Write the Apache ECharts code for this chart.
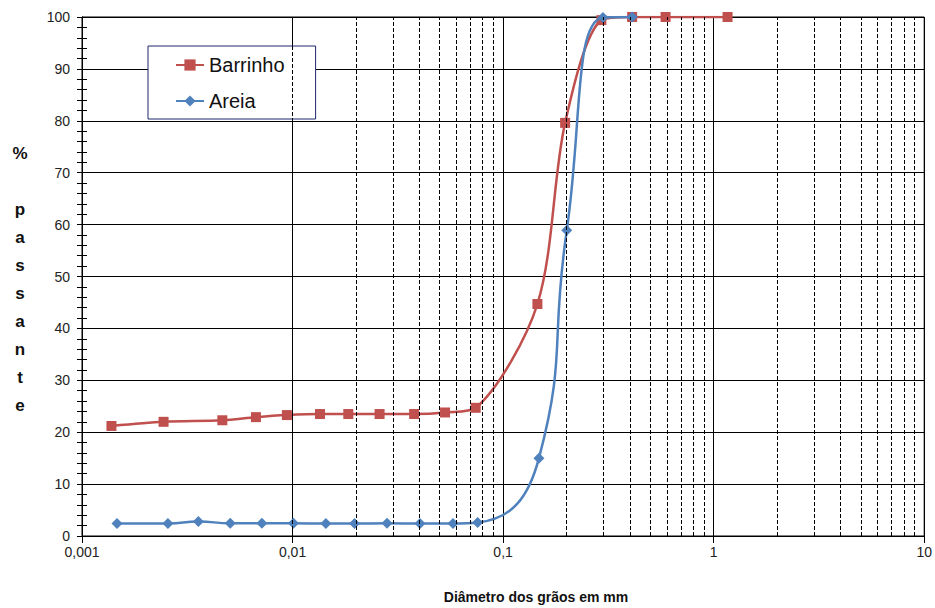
<!DOCTYPE html>
<html>
<head>
<meta charset="utf-8">
<script src="https://cdn.jsdelivr.net/npm/echarts@6/dist/echarts.min.js"></script>
<style>html,body{margin:0;padding:0;background:#fff}#c{width:935px;height:608px}</style>
</head>
<body>
<div id="c"></div>
<script>
// Grain-size distribution data
const seriesNames = ['Barrinho', 'Areia'];
const barrinhoDiam = [0.00138, 0.00244, 0.00464, 0.0067, 0.0094, 0.0135, 0.0184, 0.0259, 0.0378, 0.053, 0.0741, 0.1455, 0.197, 0.293, 0.41, 0.591, 1.164];
const barrinhoPass = [21.2, 22.0, 22.3, 22.9, 23.3, 23.5, 23.5, 23.5, 23.5, 23.8, 24.7, 44.7, 79.6, 99.4, 100, 100, 100];
const areiaDiam = [0.001466, 0.00256, 0.00357, 0.00506, 0.00715, 0.0101, 0.0144, 0.0197, 0.0281, 0.0403, 0.0578, 0.0757, 0.148, 0.2006, 0.298, 0.41];
const areiaPass = [2.4, 2.4, 2.8, 2.45, 2.45, 2.45, 2.4, 2.4, 2.45, 2.4, 2.4, 2.6, 15.0, 58.9, 99.9, 100];
const xTickLabels = ['0,001', '0,01', '0,1', '1', '10'];
const xTitle = 'Diâmetro dos grãos em mm';
const yTitle = '%\n\np\na\ns\ns\na\nn\nt\ne';

const zip = (a, b) => a.map((v, i) => [v, b[i]]);

// minor log gridlines (2..9 x 10^k)
const minorLines = [];
for (let k = -3; k <= 0; k++) {
  for (let m = 2; m <= 9; m++) minorLines.push({ xAxis: m * Math.pow(10, k) });
}

const FONT = 'Liberation Sans, Arial, sans-serif';
const chart = echarts.init(document.getElementById('c'), null, { renderer: 'svg' });
const baseY = {
  type: 'value', min: 0, max: 100, interval: 10, position: 'left',
  axisLine: { show: true, lineStyle: { color: '#000', width: 1 } }
};
chart.setOption({
  animation: false,
  backgroundColor: '#fff',
  grid: { left: 82, right: 10, top: 17, bottom: 72, show: true, borderColor: '#000', borderWidth: 1, containLabel: false },
  legend: {
    data: seriesNames,
    orient: 'vertical', left: 148, top: 46,
    backgroundColor: '#fff', borderColor: '#1f2670', borderWidth: 1,
    padding: [9, 31, 8, 27], itemGap: 16, itemWidth: 28, itemHeight: 14,
    textStyle: { fontFamily: FONT, fontSize: 20, color: '#111' }
  },
  xAxis: {
    type: 'log', logBase: 10, min: 0.001, max: 10,
    axisLine: { show: true, onZero: false, lineStyle: { color: '#000', width: 1 } },
    axisTick: { show: true, length: 7, lineStyle: { color: '#000' } },
    axisLabel: {
      margin: 9, fontFamily: FONT, fontSize: 14, color: '#222',
      formatter: v => { const i = Math.round(Math.log10(v)) + 3; return xTickLabels[i] !== undefined ? xTickLabels[i] : ''; }
    },
    splitLine: { show: true, lineStyle: { color: '#000', width: 1 } }
  },
  yAxis: [
    Object.assign({}, baseY, {
      axisTick: { show: true, inside: false, length: 5, lineStyle: { color: '#000' } },
      minorTick: { show: true, splitNumber: 5, length: 5, lineStyle: { color: '#000' } },
      axisLabel: { margin: 12, fontFamily: FONT, fontSize: 14, color: '#222' },
      splitLine: { show: true, lineStyle: { color: '#000', width: 1 } }
    }),
    Object.assign({}, baseY, {
      axisTick: { show: true, inside: true, length: 5, lineStyle: { color: '#000' } },
      minorTick: { show: true, splitNumber: 5, length: 5, lineStyle: { color: '#000' } },
      axisLabel: { show: false },
      splitLine: { show: false }
    })
  ],
  graphic: [
    { type: 'text', x: 20, y: 279, z: 10,
      style: { text: yTitle, fontFamily: FONT, fontSize: 17, fontWeight: 'bold', fill: '#111',
               align: 'center', verticalAlign: 'middle', lineHeight: 28 } },
    { type: 'text', x: 536, y: 597, z: 10,
      style: { text: xTitle, fontFamily: FONT, fontSize: 14, fontWeight: 'bold', fill: '#111',
               align: 'center', verticalAlign: 'middle' } }
  ],
  series: [
    {
      name: 'grid-minor', type: 'line', data: [], z: 1, silent: true,
      markLine: {
        silent: true, symbol: ['none', 'none'], label: { show: false },
        lineStyle: { color: '#000', width: 1, type: [4, 2] },
        emphasis: { disabled: true },
        data: minorLines
      }
    },
    {
      name: seriesNames[0], type: 'line', z: 3, smooth: 0.3,
      data: zip(barrinhoDiam, barrinhoPass),
      symbol: 'rect', symbolSize: 10,
      itemStyle: { color: '#C0504D' },
      lineStyle: { color: '#C0504D', width: 2.5 }
    },
    {
      name: seriesNames[1], type: 'line', z: 4, smooth: 0.5,
      data: zip(areiaDiam, areiaPass),
      symbol: 'diamond', symbolSize: 11,
      itemStyle: { color: '#4F81BD' },
      lineStyle: { color: '#4F81BD', width: 2.5 }
    }
  ]
});
</script>
</body>
</html>
